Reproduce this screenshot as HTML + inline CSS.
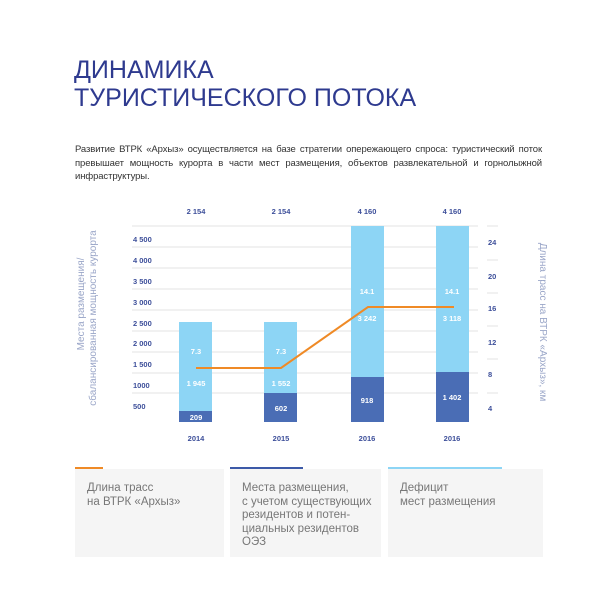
<!DOCTYPE html>
<html><head><meta charset="utf-8"><style>
body{margin:0;width:600px;height:616px;background:#fff;position:relative;overflow:hidden;font-family:"Liberation Sans","Noto Sans CJK SC",sans-serif}
.t{position:absolute;left:74px;color:#2e3a8f;font-size:25px;line-height:28px}
.p{position:absolute;left:75px;top:143px;width:467px;font-size:9.5px;line-height:13.5px;color:#333;text-align:justify;letter-spacing:-0.1px}
.box{position:absolute;top:469px;height:88px;background:#f5f5f5;color:#777;font-size:11.5px;line-height:13.5px;box-sizing:border-box;padding:13px 0 0 12px}
.strip{position:absolute;top:467px;height:2px}
</style></head><body>
<div class="t" style="top:56px">ДИНАМИКА<br>ТУРИСТИЧЕСКОГО ПОТОКА</div>
<div class="p">Развитие ВТРК «Архыз» осуществляется на базе стратегии опережающего спроса: туристический поток превышает мощность курорта в части мест размещения, объектов развлекательной и горнолыжной инфраструктуры.</div>
<svg width="600" height="616" style="position:absolute;left:0;top:0" font-family="Liberation Sans, sans-serif">
<g stroke="#e3e3e3" stroke-width="1">
<line x1="132" y1="226" x2="478" y2="226"/><line x1="132" y1="247" x2="478" y2="247"/><line x1="132" y1="268" x2="478" y2="268"/><line x1="132" y1="289" x2="478" y2="289"/><line x1="132" y1="310" x2="478" y2="310"/><line x1="132" y1="331" x2="478" y2="331"/><line x1="132" y1="352" x2="478" y2="352"/><line x1="132" y1="373" x2="478" y2="373"/><line x1="132" y1="393" x2="478" y2="393"/>
<line x1="487" y1="226" x2="498" y2="226"/><line x1="487" y1="260" x2="498" y2="260"/><line x1="487" y1="293" x2="498" y2="293"/><line x1="487" y1="326" x2="498" y2="326"/><line x1="487" y1="359" x2="498" y2="359"/><line x1="487" y1="393" x2="498" y2="393"/>
</g>
<g font-size="7.5" font-weight="bold" fill="#3d4f9a">
<text x="133" y="242">4 500</text><text x="133" y="263">4 000</text><text x="133" y="284">3 500</text><text x="133" y="305">3 000</text><text x="133" y="326">2 500</text><text x="133" y="346">2 000</text><text x="133" y="367">1 500</text><text x="133" y="388">1000</text><text x="133" y="409">500</text>
<text x="488" y="245">24</text><text x="488" y="279">20</text><text x="488" y="311">16</text><text x="488" y="345">12</text><text x="488" y="377">8</text><text x="488" y="411">4</text>
<g text-anchor="middle"><text x="196" y="214">2 154</text><text x="281" y="214">2 154</text><text x="367" y="214">4 160</text><text x="452" y="214">4 160</text>
<text x="196" y="441">2014</text><text x="281" y="441">2015</text><text x="367" y="441">2016</text><text x="452" y="441">2016</text></g>
</g>
<rect x="179" y="322" width="33" height="100" fill="#8dd5f5"/><rect x="179" y="411" width="33" height="11" fill="#4a6db5"/>
<rect x="264" y="322" width="33" height="100" fill="#8dd5f5"/><rect x="264" y="393" width="33" height="29" fill="#4a6db5"/>
<rect x="351" y="226" width="33" height="196" fill="#8dd5f5"/><rect x="351" y="377" width="33" height="45" fill="#4a6db5"/>
<rect x="436" y="226" width="33" height="196" fill="#8dd5f5"/><rect x="436" y="372" width="33" height="50" fill="#4a6db5"/>
<g font-size="7.5" font-weight="bold" fill="#fff" text-anchor="middle">
<text x="196" y="354">7.3</text><text x="196" y="386">1 945</text><text x="196" y="420">209</text>
<text x="281" y="354">7.3</text><text x="281" y="386">1 552</text><text x="281" y="411">602</text>
<text x="367" y="294">14.1</text><text x="367" y="321">3 242</text><text x="367" y="403">918</text>
<text x="452" y="294">14.1</text><text x="452" y="321">3 118</text><text x="452" y="400">1 402</text>
</g>
<polyline points="196,368 281,368 368,307 454,307" fill="none" stroke="#ef8a26" stroke-width="2"/>
<g font-size="10" fill="#9aa6c8" text-anchor="middle">
<text transform="translate(84,304) rotate(-90)">Места размещения/</text>
<text transform="translate(96,318) rotate(-90)">сбалансированная мощность курорта</text>
<text transform="translate(540,322) rotate(90)">Длина трасс на ВТРК «Архыз», км</text>
</g>
</svg>
<div class="box" style="left:75px;width:149px">Длина трасс<br>на ВТРК «Архыз»</div>
<div class="box" style="left:230px;width:151px">Места размещения,<br>с учетом существующих<br>резидентов и потен-<br>циальных резидентов<br>ОЭЗ</div>
<div class="box" style="left:388px;width:155px">Дефицит<br>мест размещения</div>
<div class="strip" style="left:75px;width:28px;background:#ef8a26"></div>
<div class="strip" style="left:230px;width:73px;background:#3d5aa8"></div>
<div class="strip" style="left:388px;width:114px;background:#8dd5f5"></div>
</body></html>
